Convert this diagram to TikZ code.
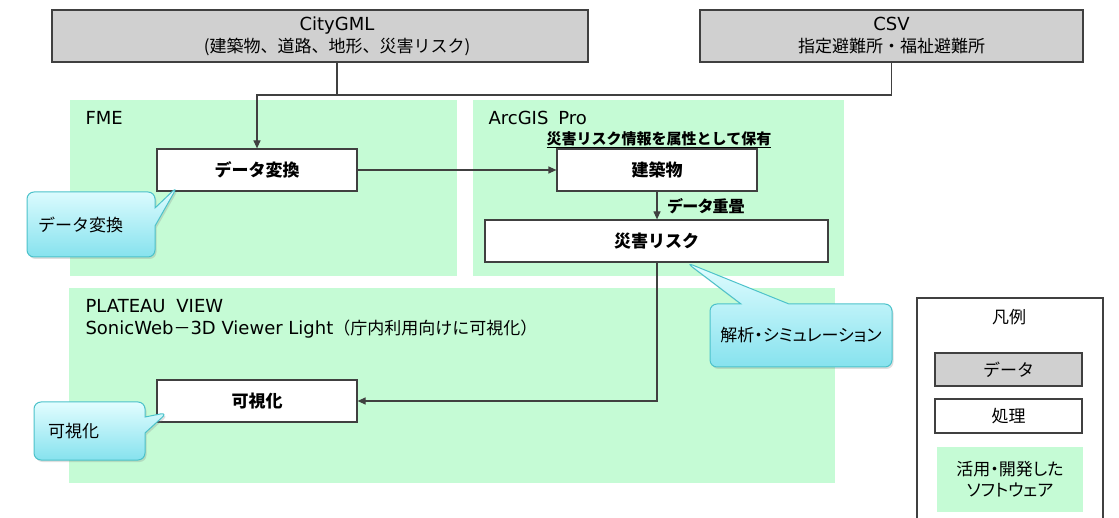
\documentclass[tikz,border=0pt]{standalone}
\usepackage{fontspec}
\setmainfont{Noto Sans CJK JP}
\newfontfamily\jpp{Noto Sans CJK JP}[RawFeature=+palt]
\newfontfamily\vd{DejaVu Sans}
\usetikzlibrary{arrows.meta,shapes.callouts,shadows,calc}
\definecolor{linec}{HTML}{404040}
\definecolor{datagray}{HTML}{D0D0D0}
\definecolor{swgreen}{HTML}{C5FBD5}
\definecolor{noteedge}{HTML}{4CC2CA}
\definecolor{notetop}{HTML}{E2FDFF}
\definecolor{notebot}{HTML}{86E2EE}
\newcommand\lat[1]{{\vd\fontsize{18}{22}\selectfont #1}}

\tikzset{
  datbox/.style={draw=linec, fill=datagray, line width=1.2pt, minimum height=52pt,
    inner sep=0pt, align=center, font=\fontsize{17}{22}\selectfont},
  procbox/.style={draw=linec, fill=white, line width=1.2pt, inner sep=0pt,
    minimum height=42pt, font=\fontsize{17}{20}\selectfont\bfseries},
  swarea/.style={fill=swgreen},
  note/.style={rectangle callout, rounded corners=7pt, draw=noteedge, line width=1pt,
    top color=notetop, bottom color=notebot, inner sep=0pt,
    drop shadow={shadow xshift=1.5pt, shadow yshift=-2pt, opacity=0.25},
    font=\fontsize{17}{20}\selectfont},
  flow/.style={draw=linec, line width=1.2pt, -{Triangle[length=8pt,width=7pt]}},
  link/.style={draw=linec, line width=1.2pt},
}

\begin{document}
\begin{tikzpicture}[x=1pt, y=-1pt]
  \useasboundingbox (0,0) rectangle (1119,518);

  % software areas
  \fill[swarea] (70,100) rectangle (457,276);
  \fill[swarea] (473,100) rectangle (844,276);
  \fill[swarea] (69,288) rectangle (835,483);
  \node[anchor=west] (fme) at (82,118) {\lat{FME}};
  \node[anchor=west] (arcgis) at (485,118) {\lat{ArcGIS\hspace{0.55em}Pro}};
  \node[anchor=west, align=left, font=\fontsize{17}{22}\selectfont] (plateau) at (82,319)
    {\lat{PLATEAU\hspace{0.6em}VIEW}\\\lat{SonicWeb}－\lat{3D Viewer Light}（庁内利用向けに可視化）};

  % data
  \node[datbox, minimum width=536pt] (citygml) at (320,36) {};
  \node[align=center, font=\fontsize{17}{22}\selectfont] (citytxt) at (337,36)
    {\lat{CityGML}\\(建築物、道路、地形、災害リスク)};
  \node[datbox, minimum width=383pt] (csv) at (891.5,36) {\lat{CSV}\\指定避難所・福祉避難所};

  % processes
  \node[procbox, minimum width=200pt] (conv) at (257,170) {データ変換};
  \node[procbox, minimum width=200pt] (bldg) at (657,170) {建築物};
  \node[procbox, minimum width=343pt] (risk) at (656.5,241) {災害リスク};
  \node[procbox, minimum width=200pt] (vis) at (257,401) {可視化};
  \node[font=\fontsize{15}{18}\selectfont\bfseries] (attr) at (659,140)
    {\underline{災害リスク情報を属性として保有}};
  \node[anchor=west, font=\jpp\fontsize{16}{18}\selectfont\bfseries] (overlay) at (664,206) {データ重畳};

  % connectors
  \coordinate (junc) at (citytxt |- 0,95);
  \draw[link] (citygml.south -| junc) -- (junc);
  \draw[flow] (csv.south) |- (conv.north |- junc) -- (conv.north);
  \draw[flow] (conv) -- (bldg);
  \draw[flow] (bldg) -- (bldg |- risk.north);
  \draw[flow] (bldg |- risk.south) |- (vis);

  % callouts
  \node[note, minimum width=128pt, minimum height=65pt, text width=106pt, align=left,
    callout pointer width=18pt,
    callout absolute pointer={($(conv.south west)+(21,-5)$)}] (noteconv) at (91,224.5) {データ変換};
  \node[note, minimum width=111pt, minimum height=58pt, text width=83pt, align=left,
    callout pointer width=16pt,
    callout absolute pointer={($(vis.south west)+(11,-10)$)}] (notevis) at (89.5,431) {可視化};
  \node[note, minimum width=182pt, minimum height=63pt, font=\jpp\fontsize{17}{20}\selectfont,
    callout pointer width=48pt,
    callout absolute pointer={($(risk.south)+(30,0)$)}] (notesim) at (801,335.5) {解析・シミュレーション};

  % legend
  \node[draw=linec, line width=1.2pt, minimum width=186pt, minimum height=232pt] (legend) at (1010,414) {};
  \node[font=\fontsize{17}{20}\selectfont] (legtitle) at (1009,317) {凡例};
  \node[datbox, minimum width=147pt, minimum height=33pt] (legdata) at (1008.5,369.5) {データ};
  \node[procbox, font=\fontsize{17}{20}\selectfont, minimum width=147pt, minimum height=34pt] (legproc) at (1008.5,416) {処理};
  \node[swarea, minimum width=146pt, minimum height=65pt, align=center, font=\fontsize{17}{21}\selectfont]
    (legsw) at (1010,479.5) {{\jpp 活用・開発した}\\{\jpp ソフトウェア}};
\end{tikzpicture}
\end{document}
